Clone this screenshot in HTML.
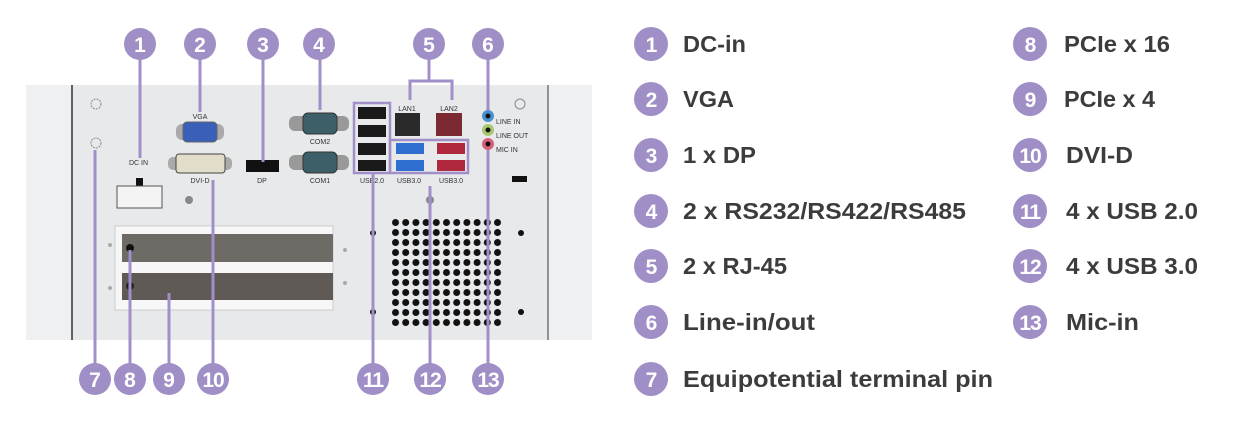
<!DOCTYPE html>
<html><head><meta charset="utf-8"><style>
html,body{margin:0;padding:0;background:#fff;}
svg{display:block;}
text{font-family:"Liberation Sans",sans-serif;}
</style></head><body>
<svg width="1235" height="422" viewBox="0 0 1235 422" xmlns="http://www.w3.org/2000/svg">
<!-- chassis -->
<rect x="26" y="85" width="566" height="255" fill="#e8e9eb"/>
<rect x="26" y="85" width="46" height="255" fill="#eef0f1"/>
<rect x="548" y="85" width="44" height="255" fill="#eef0f1"/>
<line x1="72" y1="85" x2="72" y2="340" stroke="#333" stroke-width="1.5"/>
<line x1="548" y1="85" x2="548" y2="340" stroke="#555" stroke-width="1.2"/>
<circle cx="96" cy="104" r="5" fill="none" stroke="#888" stroke-dasharray="2 1"/>
<circle cx="96" cy="143" r="5" fill="none" stroke="#888" stroke-dasharray="2 1"/>
<circle cx="520" cy="104" r="5" fill="none" stroke="#888"/>
<!-- VGA -->
<rect x="176" y="124" width="48" height="16" rx="6" fill="#aaa"/>
<rect x="183" y="122" width="34" height="20" rx="4" fill="#3a5fb8" stroke="#666"/>
<text x="200" y="119" font-size="7" text-anchor="middle" fill="#333">VGA</text>
<!-- DVI -->
<rect x="168" y="157" width="64" height="13" rx="5" fill="#aaa"/>
<rect x="176" y="154" width="49" height="19" rx="3" fill="#e2ddc8" stroke="#444"/>
<text x="200" y="183" font-size="7" text-anchor="middle" fill="#333">DVI-D</text>
<!-- DP -->
<rect x="246" y="160" width="33" height="12" fill="#111"/>
<text x="262" y="183" font-size="7" text-anchor="middle" fill="#333">DP</text>
<!-- COM -->
<rect x="289" y="116" width="60" height="15" rx="6" fill="#999"/>
<rect x="303" y="113" width="34" height="21" rx="5" fill="#3d6068" stroke="#333"/>
<text x="320" y="144" font-size="7" text-anchor="middle" fill="#333">COM2</text>
<rect x="289" y="155" width="60" height="15" rx="6" fill="#999"/>
<rect x="303" y="152" width="34" height="21" rx="5" fill="#3d6068" stroke="#333"/>
<text x="320" y="183" font-size="7" text-anchor="middle" fill="#333">COM1</text>
<!-- DC -->
<text x="129" y="165" font-size="7" fill="#333">DC IN</text>
<rect x="136" y="178" width="7" height="8" fill="#111"/>
<rect x="117" y="186" width="45" height="22" fill="#f4f4f4" stroke="#555"/>
<circle cx="189" cy="200" r="4" fill="#888"/>
<circle cx="430" cy="200" r="4" fill="#888"/>
<!-- USB2 -->
<g fill="#1a1a1a">
<rect x="358" y="107" width="28" height="12"/><rect x="358" y="125" width="28" height="12"/>
<rect x="358" y="143" width="28" height="12"/><rect x="358" y="160" width="28" height="11"/>
<rect x="395" y="113" width="25" height="23" fill="#2a2a2a"/>
<rect x="436" y="113" width="26" height="23" fill="#7a2a30"/>
</g>
<rect x="396" y="143" width="28" height="11" fill="#2f6fd0"/><rect x="396" y="160" width="28" height="11" fill="#2f6fd0"/>
<rect x="437" y="143" width="28" height="11" fill="#b0283c"/><rect x="437" y="160" width="28" height="11" fill="#b0283c"/>
<text x="407" y="111" font-size="7" text-anchor="middle" fill="#333">LAN1</text>
<text x="449" y="111" font-size="7" text-anchor="middle" fill="#333">LAN2</text>
<text x="372" y="183" font-size="7" text-anchor="middle" fill="#333">USB2.0</text>
<text x="409" y="183" font-size="7" text-anchor="middle" fill="#333">USB3.0</text>
<text x="451" y="183" font-size="7" text-anchor="middle" fill="#333">USB3.0</text>
<rect x="354" y="103" width="36" height="70" fill="none" stroke="#a08fc8" stroke-width="2.5"/>
<rect x="390" y="140" width="78" height="33" fill="none" stroke="#a08fc8" stroke-width="2.5"/>
<!-- audio -->
<circle cx="488" cy="116" r="6" fill="#4a90d0"/><circle cx="488" cy="116" r="2.5" fill="#111"/>
<circle cx="488" cy="130" r="6" fill="#a8c870"/><circle cx="488" cy="130" r="2.5" fill="#111"/>
<circle cx="488" cy="144" r="6" fill="#d8607a"/><circle cx="488" cy="144" r="2.5" fill="#111"/>
<text x="496" y="124" font-size="7" fill="#333">LINE IN</text>
<text x="496" y="138" font-size="7" fill="#333">LINE OUT</text>
<text x="496" y="152" font-size="7" fill="#333">MIC IN</text>
<rect x="512" y="176" width="15" height="6" fill="#111"/>
<!-- PCIe -->
<rect x="115" y="226" width="218" height="84" fill="#f7f7f7" stroke="#ccc"/>
<rect x="122" y="234" width="211" height="28" fill="#6e6a66"/>
<rect x="122" y="273" width="211" height="27" fill="#5f5a56"/>
<circle cx="130" cy="248" r="4" fill="#111"/><circle cx="130" cy="286" r="4" fill="#222"/>
<g fill="#aaa"><circle cx="110" cy="245" r="2"/><circle cx="110" cy="288" r="2"/><circle cx="345" cy="250" r="2"/><circle cx="345" cy="283" r="2"/></g>
<g fill="#111"><circle cx="373" cy="233" r="3"/><circle cx="373" cy="312" r="3"/><circle cx="521" cy="233" r="3"/><circle cx="521" cy="312" r="3"/></g>
<!-- vent -->
<defs><pattern id="v" x="391" y="218" width="10.2" height="10" patternUnits="userSpaceOnUse"><circle cx="4.5" cy="4.5" r="3.5" fill="#111"/></pattern></defs>
<rect x="391" y="218" width="112" height="110" fill="url(#v)"/>
<!-- callout lines -->
<g stroke="#a08fc8" stroke-width="3" fill="none">
<line x1="140" y1="58" x2="140" y2="158"/>
<line x1="200" y1="58" x2="200" y2="112"/>
<line x1="263" y1="58" x2="263" y2="162"/>
<line x1="320" y1="58" x2="320" y2="110"/>
<polyline points="410,100 410,81 452,81 452,100"/>
<line x1="429" y1="58" x2="429" y2="81"/>
<line x1="488" y1="58" x2="488" y2="110"/>
<line x1="95" y1="150" x2="95" y2="366"/>
<line x1="130" y1="250" x2="130" y2="366"/>
<line x1="169" y1="293" x2="169" y2="366"/>
<line x1="213" y1="180" x2="213" y2="366"/>
<line x1="373" y1="173" x2="373" y2="366"/>
<line x1="430" y1="186" x2="430" y2="366"/>
<line x1="488" y1="150" x2="488" y2="366"/>
</g>
<g fill="#9f8fc6">
<circle cx="140" cy="44" r="16"/><circle cx="200" cy="44" r="16"/><circle cx="263" cy="44" r="16"/><circle cx="319" cy="44" r="16"/><circle cx="429" cy="44" r="16"/><circle cx="488" cy="44" r="16"/>
<circle cx="95" cy="379" r="16"/><circle cx="130" cy="379" r="16"/><circle cx="169" cy="379" r="16"/><circle cx="213" cy="379" r="16"/><circle cx="373" cy="379" r="16"/><circle cx="430" cy="379" r="16"/><circle cx="488" cy="379" r="16"/>
</g>
<g fill="#fff" font-size="21" font-weight="bold" text-anchor="middle">
<text x="140" y="52">1</text><text x="200" y="52">2</text><text x="263" y="52">3</text><text x="319" y="52">4</text><text x="429" y="52">5</text><text x="488" y="52">6</text>
<text x="95" y="387">7</text><text x="130" y="387">8</text><text x="169" y="387">9</text><text x="213" y="387" letter-spacing="-1">10</text><text x="373" y="387" letter-spacing="-1">11</text><text x="430" y="387" letter-spacing="-1">12</text><text x="488" y="387" letter-spacing="-1">13</text>
</g>
<!-- legend -->
<g fill="#9f8fc6">
<circle cx="651" cy="44" r="17"/><circle cx="651" cy="99" r="17"/><circle cx="651" cy="155" r="17"/><circle cx="651" cy="211" r="17"/><circle cx="651" cy="266" r="17"/><circle cx="651" cy="322" r="17"/><circle cx="651" cy="379" r="17"/>
<circle cx="1030" cy="44" r="17"/><circle cx="1030" cy="99" r="17"/><circle cx="1030" cy="155" r="17"/><circle cx="1030" cy="211" r="17"/><circle cx="1030" cy="266" r="17"/><circle cx="1030" cy="322" r="17"/>
</g>
<g fill="#fff" font-size="21" font-weight="bold" text-anchor="middle" letter-spacing="-1">
<text x="651" y="52">1</text><text x="651" y="107">2</text><text x="651" y="163">3</text><text x="651" y="219">4</text><text x="651" y="274">5</text><text x="651" y="330">6</text><text x="651" y="387">7</text>
<text x="1030" y="52">8</text><text x="1030" y="107">9</text><text x="1030" y="163">10</text><text x="1030" y="219">11</text><text x="1030" y="274">12</text><text x="1030" y="330">13</text>
</g>
<g fill="#3c3c3c" font-size="23" font-weight="bold">
<text x="683" y="52" textLength="63" lengthAdjust="spacingAndGlyphs">DC-in</text>
<text x="683" y="107" textLength="51" lengthAdjust="spacingAndGlyphs">VGA</text>
<text x="683" y="163" textLength="73" lengthAdjust="spacingAndGlyphs">1 x DP</text>
<text x="683" y="219" textLength="283" lengthAdjust="spacingAndGlyphs">2 x RS232/RS422/RS485</text>
<text x="683" y="274" textLength="104" lengthAdjust="spacingAndGlyphs">2 x RJ-45</text>
<text x="683" y="330" textLength="132" lengthAdjust="spacingAndGlyphs">Line-in/out</text>
<text x="683" y="387" textLength="310" lengthAdjust="spacingAndGlyphs">Equipotential terminal pin</text>
<text x="1064" y="52" textLength="106" lengthAdjust="spacingAndGlyphs">PCIe x 16</text>
<text x="1064" y="107" textLength="91" lengthAdjust="spacingAndGlyphs">PCIe x 4</text>
<text x="1066" y="163" textLength="67" lengthAdjust="spacingAndGlyphs">DVI-D</text>
<text x="1066" y="219" textLength="132" lengthAdjust="spacingAndGlyphs">4 x USB 2.0</text>
<text x="1066" y="274" textLength="132" lengthAdjust="spacingAndGlyphs">4 x USB 3.0</text>
<text x="1066" y="330" textLength="73" lengthAdjust="spacingAndGlyphs">Mic-in</text>
</g>
</svg>
</body></html>
